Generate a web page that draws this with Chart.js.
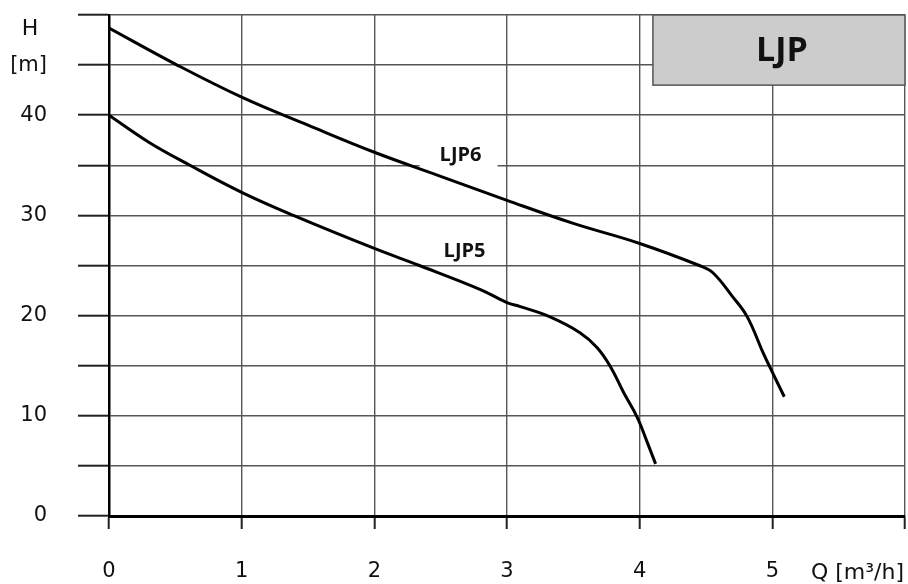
<!DOCTYPE html>
<html>
<head>
<meta charset="utf-8">
<title>LJP</title>
<script src="https://cdn.jsdelivr.net/npm/chart.js@4.4.1/dist/chart.umd.min.js"></script>
<style>
    html, body { margin: 0; padding: 0; background: #fff; }
    #wrap { position: relative; width: 908px; height: 584px; }
</style>
</head>
<body>
<div id="wrap"><canvas id="chart"></canvas></div>
<script>
// ===== Pump curves LJP5 / LJP6 =====

// Q [m3/h] and H [m]
var ljp6Q = [0, 0.5, 1, 1.5, 2, 2.5, 3, 3.5, 4, 4.45, 4.55, 4.70, 4.81, 4.93, 4.98, 5.09];
var ljp6H = [48.7, 45.1, 41.8, 39.0, 36.3, 33.9, 31.5, 29.2, 27.2, 25.0, 24.3, 21.9, 19.9, 16.3, 14.9, 11.9];

var ljp5Q = [0, 0.3, 0.61, 1, 1.39, 2, 2.34, 2.8, 3, 3.1, 3.32, 3.55, 3.68, 3.78, 3.88, 3.98, 4.05, 4.12];
var ljp5H = [40, 37.3, 35.0, 32.3, 30.0, 26.7, 25.0, 22.6, 21.3, 20.9, 19.9, 18.3, 16.8, 14.9, 12.3, 9.9, 7.6, 5.2];

var xTicks = ['0', '1', '2', '3', '4', '5', ''];
var yTickLabels = { 0: '0', 10: '10', 20: '20', 30: '30', 40: '40', 45: '[m]' };
var curveNames = ['LJP6', 'LJP5'];
var boxTitle = 'LJP';

(function() {
    'use strict';

    var FONT = '"DejaVu Sans", sans-serif';
    var BOLD = '"Open Sans", "Noto Sans", sans-serif';

    function toPoints(qs, hs) {
        var pts = [];
        for (var i = 0; i < qs.length; i++) pts.push({ x: qs[i], y: hs[i] });
        return pts;
    }

    // keep the big tick padding from eating into the plot area
    function noEdgePadding(s) {
        s.paddingTop = 0; s.paddingBottom = 0; s.paddingLeft = 0; s.paddingRight = 0;
    }

    // curve labels, title box and axis captions
    var decor = {
        id: 'decor',
        beforeDatasetsDraw: function(chart) {
            var ctx = chart.ctx, xs = chart.scales.x, ys = chart.scales.y;
            // label anchors in data units
            var anchors = [[2.65, 36.1], [2.68, 26.5]];
            ctx.save();
            for (var i = 0; i < curveNames.length; i++) {
                var cx = xs.getPixelForValue(anchors[i][0]);
                var cy = ys.getPixelForValue(anchors[i][1]);
                ctx.fillStyle = '#fff';
                ctx.fillRect(cx - 41, cy - 14, 78, 28);
                ctx.fillStyle = '#111';
                ctx.font = 'bold 20px ' + BOLD;
                ctx.textAlign = 'center';
                ctx.textBaseline = 'middle';
                ctx.fillText(curveNames[i], cx, cy + 1);
            }
            ctx.restore();
        },
        afterDraw: function(chart) {
            var ctx = chart.ctx, xs = chart.scales.x, ys = chart.scales.y;
            ctx.save();
            // title box top right
            var bx0 = xs.getPixelForValue(4.1), bx1 = xs.getPixelForValue(6);
            var by0 = ys.getPixelForValue(50), by1 = ys.getPixelForValue(43);
            ctx.fillStyle = '#cccccc';
            ctx.fillRect(bx0, by0, bx1 - bx0, by1 - by0);
            ctx.strokeStyle = '#555';
            ctx.lineWidth = 1.5;
            ctx.strokeRect(bx0, by0, bx1 - bx0, by1 - by0);
            ctx.fillStyle = '#111';
            ctx.font = 'bold 34px ' + BOLD;
            ctx.textAlign = 'center';
            ctx.textBaseline = 'middle';
            ctx.fillText(boxTitle, (bx0 + bx1) / 2 + 3, (by0 + by1) / 2 + 1);

            // axis captions
            ctx.font = '22px ' + FONT;
            ctx.fillText('H', 30, 29);
            ctx.textAlign = 'right';
            ctx.fillText('Q [m\u00b3/h]', 904, 573);
            ctx.restore();
        }
    };

    var canvas = document.getElementById('chart');
    new Chart(canvas, {
        type: 'line',
        data: {
            datasets: [
                { label: curveNames[0], data: toPoints(ljp6Q, ljp6H) },
                { label: curveNames[1], data: toPoints(ljp5Q, ljp5H) }
            ]
        },
        options: {
            responsive: true, maintainAspectRatio: false, animation: false,
            layout: { padding: { top: 15, right: 3, left: 0, bottom: 0 } },
            elements: {
                line: { borderColor: '#000', borderWidth: 3, tension: 0.4, fill: false },
                point: { radius: 0 }
            },
            plugins: { legend: { display: false }, tooltip: { enabled: false } },
            scales: {
                x: {
                    type: 'linear', min: 0, max: 6,
                    afterFit: function(s) { s.height = 68; noEdgePadding(s); },
                    afterBuildTicks: function(s) {
                        var t = [];
                        for (var i = 0; i <= 6; i++) t.push({ value: i });
                        s.ticks = t;
                    },
                    border: { color: '#000', width: 3 },
                    grid: { color: '#555', lineWidth: 1.4, tickLength: 13, tickColor: '#222', tickWidth: 2 },
                    ticks: {
                        padding: 30, maxRotation: 0, autoSkip: false, color: '#111',
                        font: { family: FONT, size: 21 },
                        callback: function(v) { return xTicks[v] !== undefined ? xTicks[v] : ''; }
                    }
                },
                y: {
                    min: 0, max: 50,
                    afterFit: function(s) { s.width = 109; noEdgePadding(s); },
                    border: { color: '#000', width: 2.5 },
                    grid: { color: '#555', lineWidth: 1.4, tickLength: 31, tickColor: '#222', tickWidth: 2 },
                    ticks: {
                        stepSize: 5, padding: 31, color: '#111',
                        font: { family: FONT, size: 21 },
                        callback: function(v) { return yTickLabels[v] !== undefined ? yTickLabels[v] : ''; }
                    }
                }
            }
        },
        plugins: [decor]
    });
})();
</script>
</body>
</html>
